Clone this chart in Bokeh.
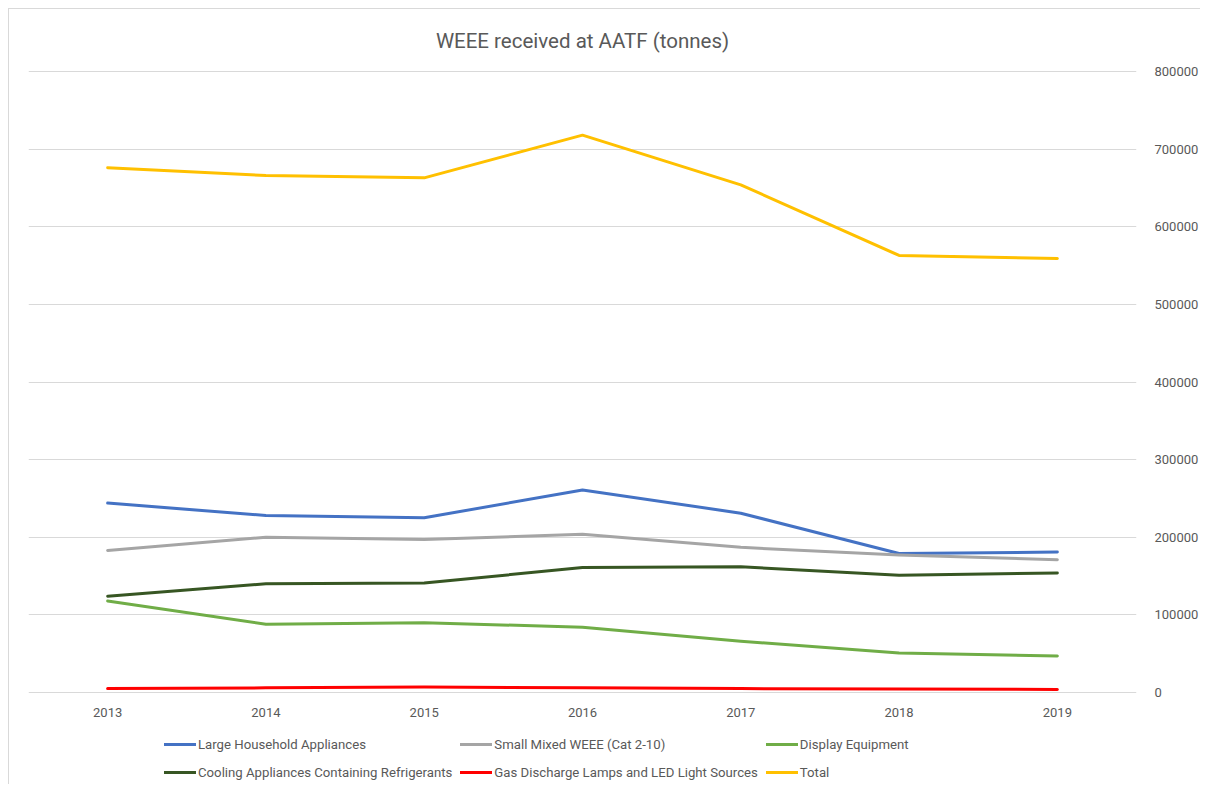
from bokeh.plotting import figure
from bokeh.models import (Range1d, FactorRange, Legend, LegendItem, FixedTicker,
                          NumeralTickFormatter, Title)
from bokeh.embed import file_html
from bokeh.resources import INLINE

years = ["2013", "2014", "2015", "2016", "2017", "2018", "2019"]
large_household = [244000, 228000, 225000, 261000, 231000, 179000, 181000]
small_mixed = [183000, 200000, 197000, 204000, 187000, 177000, 171000]
display_equipment = [118000, 88000, 90000, 84000, 66000, 51000, 47000]
cooling = [124000, 140000, 141000, 161000, 162000, 151000, 154000]
gas_discharge = [5000, 6000, 7000, 6000, 5000, 4500, 4000]
total = [676000, 666000, 663000, 718000, 654000, 563000, 559000]
y_ticks = [0, 100000, 200000, 300000, 400000, 500000, 600000, 700000, 800000]

series = [
    ("Large Household Appliances", large_household, "#4472C4"),
    ("Small Mixed WEEE (Cat 2-10)", small_mixed, "#A5A5A5"),
    ("Display Equipment", display_equipment, "#70AD47"),
    ("Cooling Appliances Containing Refrigerants", cooling, "#375623"),
    ("Gas Discharge Lamps and LED Light Sources", gas_discharge, "#FF0000"),
    ("Total", total, "#FFC000"),
]

FONT = "Roboto"
TXT = "#595959"

# 621 px for 0..800000; frame extends 1px above the top gridline and 93px below zero
Y_MAX = 800000
PX = Y_MAX / 621
Y_TOP = Y_MAX + 1 * PX
Y_BOTTOM = -93 * PX

p = figure(x_range=FactorRange(*years, range_padding=0), y_range=Range1d(Y_BOTTOM, Y_TOP),
           width=1192, height=776, y_axis_location="right",
           output_backend="svg", toolbar_location=None,
           min_border_left=19, min_border_top=61, min_border_right=61, min_border_bottom=0)
p.outline_line_color = None
p.styles = {"border-left": "1px solid #D9D9D9", "border-top": "1px solid #D9D9D9",
            "margin": "8px 0px 0px 8px"}

t = Title(text="WEEE received at AATF (tonnes)", align="center", vertical_align="top",
          text_font=FONT, text_font_size="20.5px", text_font_style="normal",
          text_color=TXT, standoff=32)
p.add_layout(t, "above")

p.xgrid.grid_line_color = None
p.ygrid.grid_line_color = "#D9D9D9"
p.ygrid.grid_line_width = 1

p.yaxis.ticker = FixedTicker(ticks=y_ticks)
p.yaxis.formatter = NumeralTickFormatter(format="0")
p.xaxis.fixed_location = 0
for ax in (p.xaxis, p.yaxis):
    ax.axis_line_color = None
    ax.major_tick_line_color = None
    ax.minor_tick_line_color = None
    ax.major_label_text_font = FONT
    ax.major_label_text_font_size = "13px"
    ax.major_label_text_color = TXT
p.yaxis.major_label_standoff = 12
p.xaxis.major_label_standoff = 9

items = []
for name, vals, col in series:
    r = p.line(years, vals, line_color=col, line_width=3, line_join="round", line_cap="round")
    items.append(LegendItem(label=name, renderers=[r]))

legend = Legend(items=items, orientation="horizontal", ncols=3, location=(136, 3),
                margin=0, padding=0, spacing=8, label_standoff=2,
                glyph_width=32, glyph_height=20,
                label_text_font=FONT, label_text_font_size="13.2px", label_text_color=TXT,
                border_line_color=None, background_fill_alpha=0)
p.add_layout(legend, "center")

open("out.html", "w").write(file_html(p, INLINE))
